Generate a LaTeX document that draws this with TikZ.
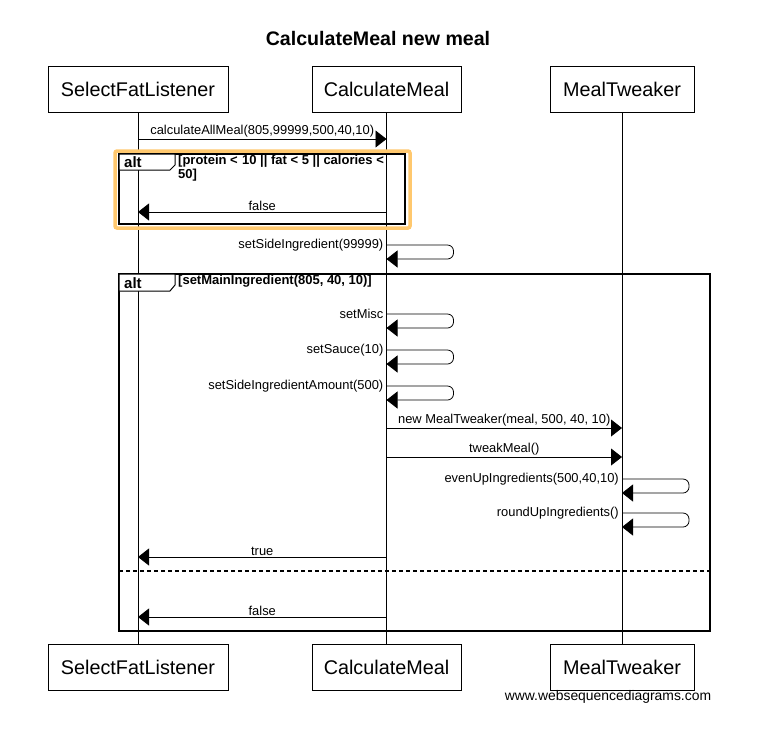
\documentclass[tikz,border=0pt]{standalone}
\usepackage{fontspec}
\setmainfont{Liberation Sans}
\usetikzlibrary{arrows.meta}
\definecolor{hl}{RGB}{255,200,110}
\begin{document}
\begin{tikzpicture}[x=1pt,y=-1pt,
  part/.style={draw,line width=1pt,minimum width=#1,minimum height=46pt,inner sep=0pt,font=\fontsize{19.8}{22}\selectfont},
  life/.style={line width=0.8pt},
  msg/.style={line width=0.8pt,-{Triangle[length=11pt,width=17pt]}},
  lbl/.style={font=\fontsize{12.9}{15}\selectfont,inner sep=1pt},
  cond/.style={font=\bfseries\fontsize{13}{14}\selectfont,inner sep=0pt,anchor=north west,align=left},
  altl/.style={font=\bfseries\fontsize{15}{16}\selectfont,anchor=west,inner sep=0pt},
  frame/.style={line width=1.6pt},
  tab/.style={line width=1pt,fill=white}]
\useasboundingbox (0,0) rectangle (781,732);
\node[font=\bfseries\fontsize{19.6}{22}\selectfont] (title) at (378,38) {CalculateMeal new meal};
% participants
\node[part=180pt] (sfl) at (138,89) {SelectFatListener};
\node[part=149pt] (cm) at (386.5,89) {CalculateMeal};
\node[part=144pt] (mt) at (622,89) {MealTweaker};
\node[part=180pt] (sflb) at (138,667) {SelectFatListener};
\node[part=149pt] (cmb) at (386.5,667) {CalculateMeal};
\node[part=144pt] (mtb) at (622,667) {MealTweaker};
\draw[life] (sfl) -- (sflb);
\draw[life] (cm) -- (cmb);
\draw[life] (mt) -- (mtb);
% message 1
\draw[msg] (sfl|-0,139) -- node[lbl,above] {calculateAllMeal(805,99999,500,40,10)} (cm|-0,139);
% alt 1
\draw[hl,line width=3.5pt,rounded corners=2pt] (115,151) rectangle (410,228);
\draw[frame] (119,154) rectangle (405,224);
\draw[tab] (119,154) -- (175,154) -- (175,165) -- (170,170) -- (119,170) -- cycle;
\node[altl] (alt1) at (124,162) {alt};
\node[cond] (c1) at (178,155) {[protein <\,\,10 || fat < 5 || calories <\\50]};
\draw[msg] (cm|-0,212) -- node[lbl,above] {false} (sfl|-0,212);
% setSideIngredient
\draw[msg,rounded corners=6pt] (cm|-0,245) -- ++(67,0) -- ++(0,14) -- ++(-67,0);
\node[lbl,anchor=east] (l2) at ([xshift=-2pt]cm|-0,245) {setSideIngredient(99999)};
% alt 2
\draw[frame] (119,274) rectangle (710,631);
\draw[tab] (119,274) -- (175,274) -- (175,285) -- (170,291) -- (119,291) -- cycle;
\node[altl] (alt2) at (124,283) {alt};
\node[cond] (c2) at (178,275) {[setMainIngredient(805, 40, 10)]};
% self messages
\draw[msg,rounded corners=6pt] (cm|-0,314) -- ++(67,0) -- ++(0,14) -- ++(-67,0);
\node[lbl,anchor=east] (l3) at ([xshift=-2pt]cm|-0,314) {setMisc};
\draw[msg,rounded corners=6pt] (cm|-0,350) -- ++(67,0) -- ++(0,14) -- ++(-67,0);
\node[lbl,anchor=east] (l4) at ([xshift=-2pt]cm|-0,350) {setSauce(10)};
\draw[msg,rounded corners=6pt] (cm|-0,386) -- ++(67,0) -- ++(0,14) -- ++(-67,0);
\node[lbl,anchor=east] (l5) at ([xshift=-2pt]cm|-0,386) {setSideIngredientAmount(500)};
\draw[msg] (cm|-0,428) -- node[lbl,above] {new MealTweaker(meal, 500, 40, 10)} (mt|-0,428);
\draw[msg] (cm|-0,457) -- node[lbl,above] {tweakMeal()} (mt|-0,457);
\draw[msg,rounded corners=6pt] (mt|-0,479) -- ++(67,0) -- ++(0,14) -- ++(-67,0);
\node[lbl,anchor=east] (l6) at ([xshift=-2pt]mt|-0,479) {evenUpIngredients(500,40,10)};
\draw[msg,rounded corners=6pt] (mt|-0,513) -- ++(67,0) -- ++(0,14) -- ++(-67,0);
\node[lbl,anchor=east] (l7) at ([xshift=-2pt]mt|-0,513) {roundUpIngredients()};
\draw[msg] (cm|-0,557) -- node[lbl,above] {true} (sfl|-0,557);
\draw[line width=1.2pt,dash pattern=on 4pt off 3pt] (119,571) -- (710,571);
\draw[msg] (cm|-0,617) -- node[lbl,above] {false} (sfl|-0,617);
\node[font=\fontsize{13.9}{15}\selectfont,inner sep=1pt] (web) at (608,697) {www.websequencediagrams.com};
\end{tikzpicture}
\end{document}
